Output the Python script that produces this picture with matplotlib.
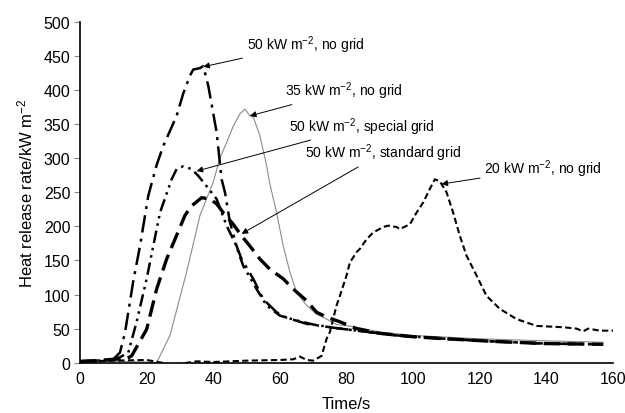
import matplotlib
matplotlib.use("Agg")
import matplotlib.pyplot as plt

plt.rcParams["font.family"] = ["Liberation Sans", "DejaVu Sans"]
plt.rcParams["mathtext.default"] = "regular"

# 50 kW m-2, no grid
t_50_nogrid = [0, 5, 10, 12, 13.5, 16, 18, 20.5, 23, 25, 27, 29, 31, 33, 34, 36, 37, 38.5,
               41, 42.5, 43.5, 45, 47, 48.5, 52, 55, 59, 62, 68, 75, 83, 95, 110, 125, 140, 157]
q_50_nogrid = [2, 3, 5, 15, 44, 120, 171, 245, 290, 318, 340, 362, 395, 421, 430, 432, 435, 406,
               338, 269, 250, 206, 171, 152, 123, 93, 74, 66, 57, 52, 47, 40, 35, 31, 28, 27]

# 50 kW m-2, special grid
t_50_special = [0, 5, 10, 12, 14.5, 17, 20, 24, 27.5, 29, 31, 33.5, 35.5, 37.5, 41, 44, 46.5,
                49, 53, 56, 60, 65, 70, 78, 85, 95, 110, 125, 140, 157]
q_50_special = [2, 3, 5, 8, 15, 60, 123, 220, 269, 284, 288, 284, 274, 262, 240, 201, 176,
                142, 108, 84, 69, 62, 56, 50, 46, 40, 35, 31, 28, 27]

# 50 kW m-2, standard grid
t_50_standard = [0, 5, 10, 14, 15.5, 20, 23, 26, 28.5, 31.5, 33.5, 36.5, 39, 41, 43, 46, 48.5,
                 51, 54, 57, 61, 64, 68, 71, 74, 78, 83, 90, 100, 110, 125, 140, 157]
q_50_standard = [2, 3, 5, 6, 10, 49, 108, 152, 181, 216, 230, 242, 240, 233, 220, 203, 186,
                 171, 152, 137, 123, 108, 91, 74, 67, 60, 50, 43, 38, 35, 31, 28, 27]

# 35 kW m-2, no grid
t_35_nogrid = [0, 10, 20, 23, 27, 32, 36, 40, 42, 44, 46, 48, 49.5, 51, 52, 54, 56, 57, 59,
               61, 63, 65, 68, 71, 74, 77, 82, 90, 100, 120, 140, 157]
q_35_nogrid = [0, 2, 1, 0, 40, 133, 216, 265, 300, 323, 347, 365, 372, 362, 360, 333, 289, 262,
               220, 171, 133, 103, 84, 71, 64, 56, 53, 45, 40, 35, 32, 30]

# 20 kW m-2, no grid
t_20_nogrid = [0, 10, 20, 28, 35, 40, 50, 60, 64, 66, 68, 70, 72.5, 74, 75, 77, 78, 80, 81,
               83, 84, 86, 88, 91, 92.5, 95, 96, 99, 101, 103, 105, 106.5, 108, 110, 112, 114,
               116, 119, 122, 126, 131, 137, 145, 149, 151, 152.5, 156, 160]
q_20_nogrid = [2, 3, 4, -3, 2, 1, 3, 4, 5, 9, 4, 3, 10, 35, 45, 84, 98, 128, 147,
               162, 167, 181, 191, 199, 201, 199, 196, 203, 220, 235, 255, 269, 266, 250, 220, 186,
               157, 128, 98, 79, 64, 54, 52, 50, 46, 50, 47, 47]

fig = plt.figure(figsize=(6.25, 4.14), dpi=100)
ax = fig.add_axes([0.128, 0.1215, 0.853, 0.8235])

ax.plot(t_35_nogrid, q_35_nogrid, color="#8a8a8a", lw=0.8)
ax.plot(t_20_nogrid, q_20_nogrid, color="black", lw=1.5, dashes=(3, 1.6))
ax.plot(t_50_standard, q_50_standard, color="black", lw=2.4, dashes=(5, 2.2))
ax.plot(t_50_special, q_50_special, color="black", lw=1.8, dashes=(5, 2, 1, 2, 1, 2))
ax.plot(t_50_nogrid, q_50_nogrid, color="black", lw=1.8, dashes=(7, 2.5, 1.2, 2.5))

ax.set_xlim(0, 160)
ax.set_ylim(0, 500)
ax.set_xticks(range(0, 161, 20))
ax.set_yticks(range(0, 501, 50))
ax.spines["top"].set_visible(False)
ax.spines["right"].set_visible(False)
ax.spines["left"].set_linewidth(1.2)
ax.spines["bottom"].set_linewidth(1.2)
ax.tick_params(axis="y", direction="out", length=4, width=0.8, color="#888888",
               labelsize=11.5, pad=3)
ax.tick_params(axis="x", length=0, labelsize=11.5, pad=6)
ax.set_xlabel("Time/s", fontsize=12, labelpad=7)
ax.set_ylabel("Heat release rate/kW m$^{-2}$", fontsize=12, labelpad=6)

arrow = dict(arrowstyle="-|>", lw=0.7, color="black", mutation_scale=9,
             shrinkA=1, shrinkB=0)
notes = [
    ("50 kW m$^{-2}$, no grid", (37, 434), (50, 467)),
    ("35 kW m$^{-2}$, no grid", (51, 362), (61.5, 399)),
    ("50 kW m$^{-2}$, special grid", (35, 281), (62.8, 347)),
    ("50 kW m$^{-2}$, standard grid", (48.5, 189), (67.5, 308)),
    ("20 kW m$^{-2}$, no grid", (108.5, 262), (121.3, 285)),
]
for label, xy, xytext in notes:
    ax.annotate(label, xy=xy, xytext=xytext, fontsize=10, ha="left", va="center",
                arrowprops=arrow)

fig.savefig("out.png", dpi=100)
